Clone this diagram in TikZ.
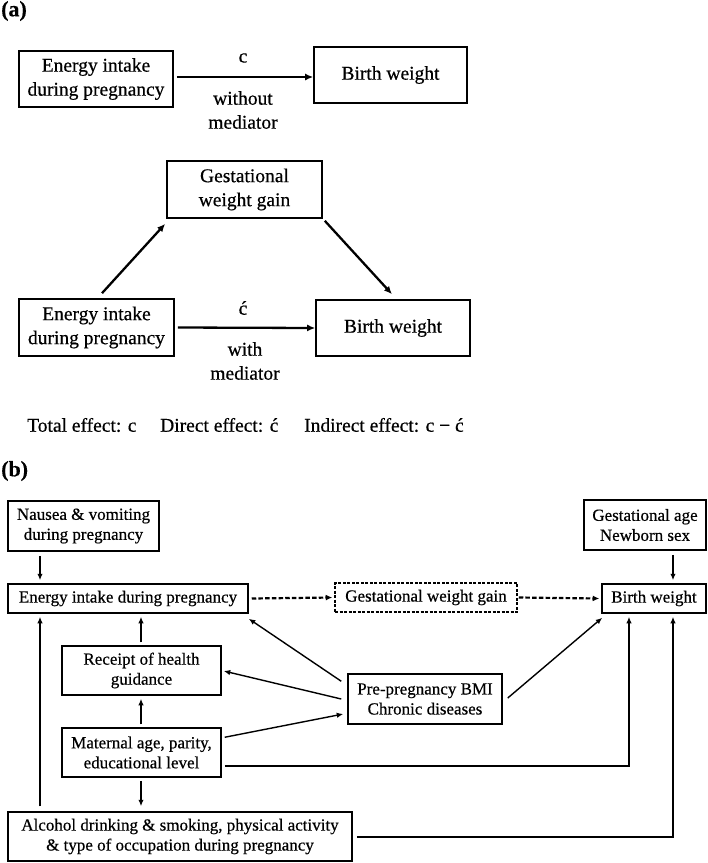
\documentclass[tikz,border=0pt]{standalone}
\usepackage{fontspec}
\setmainfont{Liberation Serif}[FakeBold=0.5]
\newfontfamily\lblfont{Liberation Serif Bold}[FakeBold=0.4]
\usetikzlibrary{arrows.meta,calc}
\begin{document}
\begin{tikzpicture}[x=1pt,y=-1pt,
  boxa/.style={draw, line width=1.6pt, inner sep=0pt, align=center, font=\fontsize{19.5}{24}\selectfont},
  boxb/.style={draw, line width=1.5pt, inner sep=0pt, align=center, font=\fontsize{17}{20}\selectfont},
  txta/.style={inner sep=0pt, align=center, font=\fontsize{19.5}{24}\selectfont},
  lbl/.style={inner sep=0pt, font=\fontsize{22}{24}\lblfont},
  arra/.style={line width=2.3pt, -{Latex[length=8pt,width=7pt]}},
  arrb/.style={line width=1.4pt, -{Latex[length=6.5pt,width=5.5pt]}},
  dasharr/.style={line width=2.2pt, dash pattern=on 4.5pt off 2.2pt, -{Latex[length=6.5pt,width=6pt]}}
]
\useasboundingbox (0,0) rectangle (708,863);
% ---------- panel (a)
\node[lbl, anchor=west] (la) at (1,11) {(a)};
\node[boxa, minimum width=154, minimum height=56] (E1) at (96,79) {Energy intake\\during pregnancy};
\node[boxa, minimum width=153, minimum height=56] (B1) at (390.5,75) {Birth weight};
\draw[arra] (E1.east |- 0,77) ++(3,0) coordinate (e1s) -- (e1s -| B1.west);
\node[txta] (c1) at (243,58) {c};
\node[txta] (wo) at (243,110) {without\\mediator};

\node[boxa, minimum width=155, minimum height=57] (G2) at (244.5,189.5) {Gestational\\weight gain};
\node[boxa, minimum width=155, minimum height=57] (E2) at (96.5,327.5) {Energy intake\\during pregnancy};
\node[boxa, minimum width=154, minimum height=56] (B2) at (393,328) {Birth weight};
\draw[arra] ($(E2.north)+(5.5,-5)$) -- ($(G2.south west)+(-1,5)$);
\draw[arra] ($(G2.south east)+(2,2)$) -- ($(B2.north)+(-1,-5)$);
\draw[arra] ($(E2.east)+(3,0)$) -- (B2.west);
\node[txta] (c2) at (243,308) {ć};
\node[txta] (wi) at (245,361) {with\\mediator};

\node[txta, anchor=west] (t1) at (27,425) {Total effect: c};
\node[txta, anchor=west] (t2) at (160,425) {Direct effect: ć};
\node[txta, anchor=west] (t3) at (304,425) {Indirect effect: c − ć};

% ---------- panel (b)
\node[lbl, anchor=west] (lb) at (1,471) {(b)};
\node[boxb, minimum width=151, minimum height=50] (N) at (83.5,526) {Nausea \& vomiting\\during pregnancy};
\node[boxb, minimum width=122, minimum height=50] (GA) at (645,525) {Gestational age\\Newborn sex};
\node[boxb, minimum width=240, minimum height=29] (E) at (128,598.5) {Energy intake during pregnancy};
\node[boxb, minimum width=182, minimum height=29, dash pattern=on 3pt off 1.5pt] (G) at (426,597.5) {Gestational weight gain};
\node[boxb, minimum width=104, minimum height=29] (B) at (654,598.5) {Birth weight};
\node[boxb, minimum width=159, minimum height=49] (R) at (141.5,670.5) {Receipt of health\\guidance};
\node[boxb, minimum width=154, minimum height=50] (P) at (425,699) {Pre-pregnancy BMI\\Chronic diseases};
\node[boxb, minimum width=159, minimum height=49] (M) at (141.5,752.5) {Maternal age, parity,\\educational level};
\node[boxb, minimum width=344, minimum height=49] (A) at (180,836.5) {Alcohol drinking \& smoking, physical activity\\\& type of occupation during pregnancy};

\coordinate (xl) at (40,0);
\coordinate (xm) at (141,0);
\coordinate (xr1) at (629,0);
\coordinate (xr2) at (673,0);

\draw[arrb] ($(N.south -| xl)+(0,4)$) -- ($(E.north -| xl)+(0,-3)$);
\draw[arrb] ($(GA.south -| xr2)+(0,4)$) -- ($(B.north -| xr2)+(0,-3)$);
\draw[dasharr] ($(E.east)+(3,0)$) -- ($(G.west)+(-2,0)$);
\draw[dasharr] ($(G.east)+(1,0)$) -- ($(B.west)+(-2,0)$);
\draw[arrb] ($(R.north -| xm)+(0,-3)$) -- ($(E.south -| xm)+(0,3)$);
\draw[arrb] ($(M.north -| xm)+(0,-3)$) -- ($(R.south -| xm)+(0,3)$);
\draw[arrb] ($(M.south -| xm)+(0,3)$) -- ($(A.north -| xm)+(0,-5)$);
\draw[arrb] ($(A.north -| xl)+(0,-5)$) -- ($(E.south -| xl)+(0,3)$);
\draw[arrb] ($(P.north west)+(-6,8)$) -- ($(E.south east)+(0,5)$);
\draw[arrb] ($(P.west)+(-6,0)$) -- ($(R.east)+(2,0.5)$);
\draw[arrb] ($(M.north east)+(3,10)$) -- ($(P.west)+(-4,15)$);
\draw[arrb] ($(P.east)+(5,-1)$) -- ($(B.south west)+(1,4)$);
\draw[arrb] ($(M.east)+(3,13.5)$) -| ($(B.south -| xr1)+(0,3)$);
\draw[arrb] ($(A.east)+(4,0.5)$) -| ($(B.south -| xr2)+(0,3)$);
\end{tikzpicture}
\end{document}
